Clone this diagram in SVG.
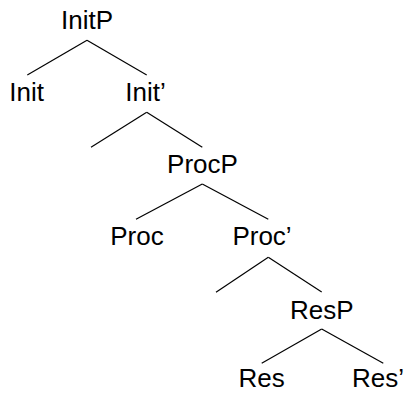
<svg xmlns="http://www.w3.org/2000/svg" width="406" height="393" viewBox="0 0 406 393">
<style>
text{font-family:"Liberation Sans",Arial,sans-serif;font-size:26px;fill:#000;text-anchor:middle}
line{stroke:#000;stroke-width:1.2}
</style>
<rect width="406" height="393" fill="#fff"/>
<g id="connectors">
<line x1="87" y1="40.3" x2="27.3" y2="75"/>
<line x1="87" y1="40.3" x2="146.7" y2="75"/>
<line x1="146.7" y1="112.3" x2="91" y2="147.3"/>
<line x1="146.7" y1="112.3" x2="202.3" y2="147.3"/>
<line x1="202.3" y1="184" x2="136" y2="219.3"/>
<line x1="202.3" y1="184" x2="268.3" y2="219.3"/>
<line x1="268.3" y1="257.3" x2="216" y2="292.3"/>
<line x1="268.3" y1="257.3" x2="321.7" y2="292"/>
<line x1="321.7" y1="329" x2="261.7" y2="363.3"/>
<line x1="321.7" y1="329" x2="383.3" y2="363.3"/>
</g>
<g id="InitP"><text x="87" y="29.3">InitP</text></g>
<g id="Init"><text x="26.7" y="101">Init</text></g>
<g id="InitBar"><text x="145.5" y="101">Init’</text></g>
<g id="ProcP"><text x="202.5" y="173.3">ProcP</text></g>
<g id="Proc"><text x="137" y="245">Proc</text></g>
<g id="ProcBar"><text x="262" y="245">Proc’</text></g>
<g id="ResP"><text x="321.7" y="319.3">ResP</text></g>
<g id="Res"><text x="261.7" y="387">Res</text></g>
<g id="ResBar"><text x="404" y="387" style="text-anchor:end">Res’</text></g>
</svg>
